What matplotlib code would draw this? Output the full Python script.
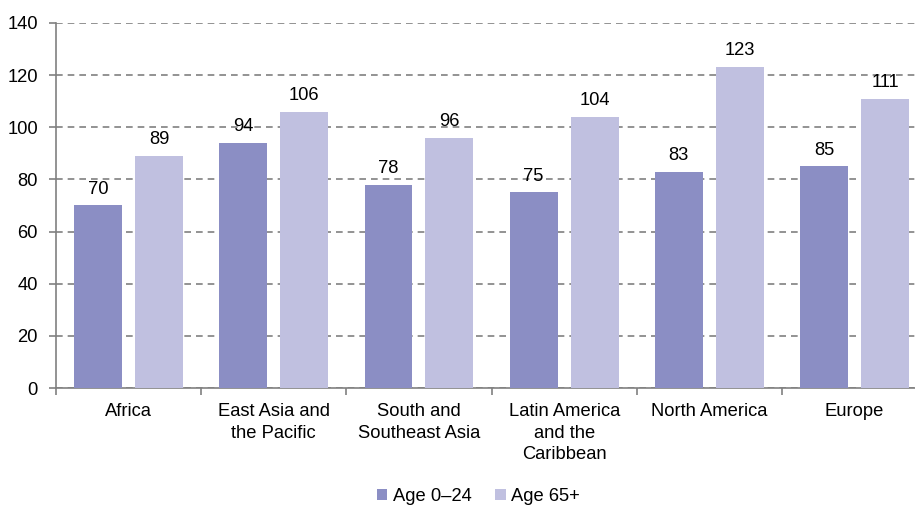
import numpy as np
import matplotlib.pyplot as plt

plt.rcParams['font.family'] = ['Liberation Sans', 'DejaVu Sans']

regions = ["Africa", "East Asia and\nthe Pacific", "South and\nSoutheast Asia",
           "Latin America\nand the\nCaribbean", "North America", "Europe"]
young = [70, 94, 78, 75, 83, 85]
old = [89, 106, 96, 104, 123, 111]
series_names = ["Age 0\u201324", "Age 65+"]

dark = "#8b8ec4"
light = "#c0c0e0"
grey = "#808080"
fs = 13.2

fig = plt.figure(figsize=(9.15, 5.08), dpi=100)
# plot area runs slightly past the right edge, like the original crop
ax = fig.add_axes([0.0612, 0.236, 0.952, 0.719])

x = np.arange(len(regions))
w = 0.33
b1 = ax.bar(x - 0.21, young, w, color=dark, label=series_names[0], zorder=3)
b2 = ax.bar(x + 0.21, old, w, color=light, label=series_names[1], zorder=3)

for bars, vals in [(b1, young), (b2, old)]:
    for r, v in zip(bars, vals):
        ax.annotate(str(v), (r.get_x() + r.get_width() / 2, v),
                    xytext=(0, 8.5), textcoords='offset points',
                    ha='center', va='baseline', fontsize=fs)

ax.set_xlim(-0.5, len(regions) - 0.5)
ax.set_ylim(0, 140)
ax.set_yticks(range(0, 141, 20))
ax.yaxis.grid(True, linestyle=(0, (4, 3)), color=grey, linewidth=1.2, zorder=0)

ax.set_xticks(np.arange(len(regions) + 1) - 0.5)
ax.set_xticklabels([])
ax.set_xticks(x, minor=True)
ax.set_xticklabels(regions, minor=True, fontsize=fs, va='top', linespacing=1.32)
ax.tick_params(axis='x', which='minor', length=0, pad=11)
ax.tick_params(axis='x', which='major', length=5, color=grey, width=1.2)
ax.tick_params(axis='y', length=5, color=grey, width=1.2, labelsize=fs, pad=8)

for s in ['top', 'right']:
    ax.spines[s].set_visible(False)
for s in ['left', 'bottom']:
    ax.spines[s].set_color(grey)
    ax.spines[s].set_linewidth(1.2)

fig.legend(loc='lower center', bbox_to_anchor=(0.523, -0.027), ncol=2,
           frameon=False, fontsize=fs, handlelength=0.55, handleheight=0.55,
           handletextpad=0.3, columnspacing=1.3)

fig.savefig('out.png', dpi=100)
